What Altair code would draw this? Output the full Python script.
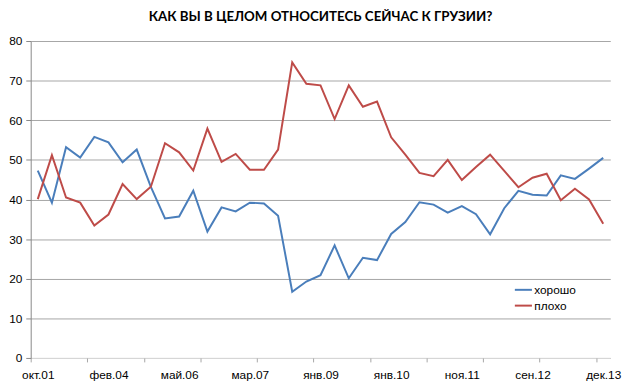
import altair as alt
import pandas as pd

title_text = "КАК ВЫ В ЦЕЛОМ ОТНОСИТЕСЬ СЕЙЧАС К ГРУЗИИ?"
series_names = ["хорошо", "плохо"]
series_colors = ["#4A7EBB", "#BE4B48"]

horosho = [47.3, 39.2, 53.2, 50.6, 55.8, 54.4, 49.4, 52.6, 43.2, 35.2,
           35.7, 42.2, 31.9, 38.0, 37.0, 39.2, 39.0, 35.9, 16.7, 19.3,
           20.9, 28.4, 20.1, 25.3, 24.7, 31.3, 34.3, 39.3, 38.7, 36.7,
           38.3, 36.3, 31.2, 37.8, 42.2, 41.2, 41.0, 46.1, 45.2, 47.8, 50.5]
ploho = [40.1, 51.2, 40.5, 39.2, 33.4, 36.2, 43.9, 40.1, 43.2, 54.2,
         51.9, 47.3, 57.9, 49.5, 51.5, 47.5, 47.5, 52.6, 74.6, 69.2,
         68.8, 60.3, 68.8, 63.4, 64.7, 55.7, 51.3, 46.7, 45.9, 50.0,
         44.9, 48.2, 51.3, 47.2, 43.1, 45.5, 46.5, 39.8, 42.7, 40.0, 33.9]
tick_labels = ["окт.01", "фев.04", "май.06", "мар.07", "янв.09",
               "янв.10", "ноя.11", "сен.12", "дек.13"]
label_step = 5
tick_step = 4
y_ticks = [0, 10, 20, 30, 40, 50, 60, 70, 80]

n = len(horosho)
rows = []
for i, (g, b) in enumerate(zip(horosho, ploho)):
    rows.append({"i": i, "series": series_names[0], "value": g})
    rows.append({"i": i, "series": series_names[1], "value": b})
df = pd.DataFrame(rows)

label_vals = [k * label_step for k in range(len(tick_labels))]
tick_vals = [k * tick_step - 0.5 for k in range((n - 1) // tick_step + 1)]
label_arr = "[" + ",".join("'" + t + "'" for t in tick_labels) + "]"

xscale = alt.Scale(domain=[-0.5, n - 0.5], nice=False, zero=False)
yscale = alt.Scale(domain=[0, 80], nice=False)

FONT = "Liberation Sans"

lines = alt.Chart(df).mark_line(strokeWidth=2).encode(
    x=alt.X("i:Q", scale=xscale,
            axis=alt.Axis(values=label_vals, labelExpr=label_arr + "[datum.value/" + str(label_step) + "]",
                          ticks=False, grid=False, title=None, domainColor="#D9D9D9",
                          labelFont=FONT, labelFontSize=12, labelColor="#000000",
                          labelPadding=12, labelFlush=False, labelOverlap=False)),
    y=alt.Y("value:Q", scale=yscale,
            axis=alt.Axis(values=y_ticks, title=None, grid=True, gridColor="#A6A6A6",
                          domainColor="#888888", tickColor="#888888", tickSize=5,
                          labelFont=FONT, labelFontSize=12, labelColor="#000000",
                          labelPadding=4)),
    color=alt.Color("series:N", scale=alt.Scale(domain=series_names, range=series_colors),
                    sort=series_names,
                    legend=alt.Legend(title=None, orient="none", legendX=489, legendY=242,
                                      symbolType="stroke", symbolStrokeWidth=2, symbolSize=300,
                                      labelFont=FONT, labelFontSize=12, labelColor="#000000",
                                      labelOffset=1, rowPadding=0)),
)

ticks = alt.Chart(df).mark_line(opacity=0).encode(
    x=alt.X("i:Q", scale=xscale,
            axis=alt.Axis(values=tick_vals, labels=False, domain=False, grid=False, title=None,
                          tickSize=4, tickColor="#A6A6A6", orient="bottom")),
    y=alt.Y("value:Q", scale=yscale),
)

chart = alt.layer(lines, ticks).resolve_axis(x="independent").properties(
    width=587, height=321,
    title=alt.Title(title_text, font="Lato", fontSize=13.5, fontWeight="bold",
                    color="#000000", anchor="middle", offset=12),
    autosize=alt.AutoSizeParams(type="none"),
    padding={"left": 23, "top": 31, "right": 22, "bottom": 28},
).configure_view(stroke=None)

chart.save("out.html", embed_options={"renderer": "svg", "actions": False})
